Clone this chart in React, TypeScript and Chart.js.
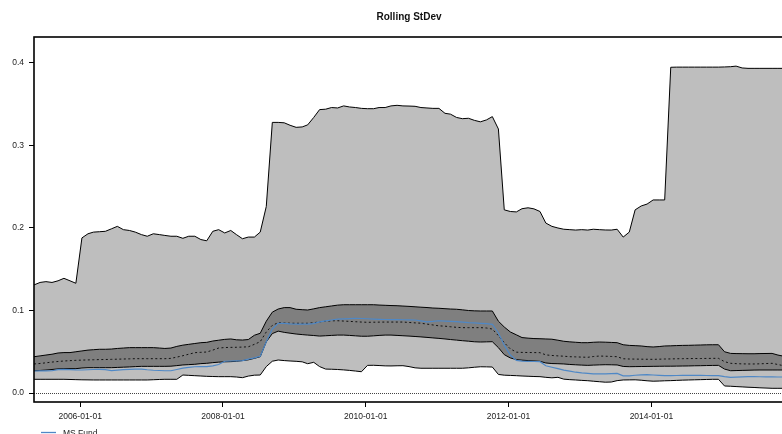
import { useEffect, useRef } from "react";
import { Chart, registerables } from "chart.js";

Chart.register(...registerables);

// Monthly observation dates, May 2005 through November 2015
const firstYear = 2005;
const firstMonth = 5;
const monthCount = 127;
const dates: string[] = [];
for (let i = 0; i < monthCount; i++) {
  const m = firstMonth - 1 + i;
  const y = firstYear + Math.floor(m / 12);
  const mm = (m % 12) + 1;
  dates.push(`${y}-${String(mm).padStart(2, "0")}-10`);
}

const xTickLabels = ["2006-01-01", "2008-01-01", "2010-01-01", "2012-01-01", "2014-01-01"];
const yTickValues = [0, 0.1, 0.2, 0.3, 0.4];

// Peer-group maximum of the rolling standard deviation
const peerMax = [
  0.131, 0.134, 0.135, 0.134, 0.136, 0.139, 0.136, 0.133, 0.188, 0.193,
  0.195, 0.1955, 0.196, 0.199, 0.202, 0.198, 0.197, 0.195, 0.192, 0.19,
  0.193, 0.192, 0.191, 0.19, 0.19, 0.1875, 0.19, 0.19, 0.186, 0.1845,
  0.196, 0.198, 0.194, 0.197, 0.192, 0.187, 0.189, 0.189, 0.195, 0.226,
  0.328, 0.328, 0.3275, 0.3245, 0.322, 0.3225, 0.325, 0.334, 0.3435, 0.344,
  0.346, 0.3455, 0.348, 0.3467, 0.346, 0.345, 0.3446, 0.3446, 0.346, 0.346,
  0.348, 0.3487, 0.348, 0.3478, 0.3475, 0.346, 0.3455, 0.345, 0.345, 0.339,
  0.338, 0.334, 0.3325, 0.333, 0.3305, 0.3287, 0.331, 0.335, 0.32, 0.222,
  0.22, 0.2195, 0.2234, 0.2245, 0.2232, 0.22, 0.206, 0.202, 0.2, 0.1985,
  0.198, 0.1975, 0.198, 0.1975, 0.1985, 0.198, 0.1976, 0.1975, 0.1985, 0.189,
  0.195, 0.222, 0.2267, 0.229, 0.234, 0.234, 0.234, 0.3948, 0.395, 0.395,
  0.395, 0.395, 0.395, 0.395, 0.395, 0.395, 0.3952, 0.3955, 0.3962, 0.394,
  0.3935, 0.3935, 0.3935, 0.3935, 0.3935, 0.3935, 0.3935,
];

// Peer-group upper quartile
const peerQ75 = [
  0.044, 0.045, 0.046, 0.047, 0.0485, 0.049, 0.049, 0.05, 0.051, 0.052,
  0.0525, 0.053, 0.053, 0.0533, 0.054, 0.0545, 0.055, 0.055, 0.055, 0.055,
  0.055, 0.0545, 0.054, 0.0545, 0.0565, 0.058, 0.059, 0.06, 0.061, 0.0614,
  0.063, 0.064, 0.065, 0.0655, 0.0645, 0.0642, 0.0648, 0.07, 0.0724, 0.087,
  0.098, 0.1018, 0.1035, 0.1035, 0.1015, 0.101, 0.1006, 0.102, 0.1035, 0.1045,
  0.1055, 0.1065, 0.107, 0.107, 0.107, 0.107, 0.107, 0.107, 0.1066, 0.1063,
  0.106, 0.1058, 0.1054, 0.105, 0.1045, 0.104, 0.1036, 0.103, 0.1027, 0.1022,
  0.1018, 0.1015, 0.1008, 0.1, 0.0996, 0.0994, 0.0994, 0.0994, 0.087, 0.08,
  0.074, 0.0705, 0.0672, 0.0665, 0.066, 0.0658, 0.0655, 0.0652, 0.064, 0.0627,
  0.062, 0.0615, 0.061, 0.061, 0.0615, 0.0618, 0.0616, 0.0613, 0.061, 0.0585,
  0.0577, 0.0574, 0.057, 0.0562, 0.0558, 0.0563, 0.057, 0.0572, 0.0575, 0.0577,
  0.0578, 0.058, 0.0582, 0.0584, 0.0585, 0.0585, 0.05, 0.048, 0.0478, 0.0477,
  0.0476, 0.0476, 0.0478, 0.0479, 0.048, 0.046, 0.0445,
];

// Peer-group median
const peerMedian = [
  0.0352, 0.0358, 0.0366, 0.0375, 0.0382, 0.0388, 0.0392, 0.0396, 0.0399, 0.0401,
  0.0403, 0.0405, 0.0406, 0.0408, 0.041, 0.0412, 0.0414, 0.0416, 0.0416, 0.0416,
  0.0416, 0.0416, 0.0416, 0.042, 0.0435, 0.0452, 0.047, 0.0489, 0.0493, 0.0497,
  0.052, 0.0545, 0.0551, 0.0553, 0.0554, 0.0557, 0.056, 0.059, 0.0622, 0.074,
  0.082, 0.0852, 0.0849, 0.0846, 0.0845, 0.0845, 0.0845, 0.0852, 0.0862, 0.087,
  0.0875, 0.0876, 0.0872, 0.0868, 0.0864, 0.086, 0.0857, 0.0858, 0.0859, 0.086,
  0.086, 0.086, 0.086, 0.0855, 0.085, 0.0846, 0.0835, 0.0825, 0.0814, 0.081,
  0.0803, 0.0796, 0.0792, 0.0792, 0.0792, 0.0792, 0.0788, 0.0775, 0.0695, 0.061,
  0.0535, 0.0495, 0.0492, 0.0491, 0.049, 0.0489, 0.0462, 0.0455, 0.045, 0.0446,
  0.044, 0.0438, 0.0435, 0.0433, 0.0442, 0.0448, 0.0446, 0.0443, 0.044, 0.0415,
  0.0412, 0.0411, 0.041, 0.0409, 0.0408, 0.041, 0.0412, 0.0413, 0.0415, 0.0416,
  0.0417, 0.0418, 0.0418, 0.0419, 0.042, 0.042, 0.038, 0.036, 0.0356, 0.0353,
  0.0352, 0.0352, 0.0354, 0.0357, 0.036, 0.0345, 0.033,
];

// Peer-group lower quartile
const peerQ25 = [
  0.027, 0.0273, 0.0278, 0.0285, 0.0292, 0.0295, 0.0295, 0.0295, 0.0303, 0.0307,
  0.0307, 0.0307, 0.0307, 0.0307, 0.031, 0.0313, 0.0316, 0.032, 0.0323, 0.0323,
  0.0323, 0.0323, 0.0323, 0.0325, 0.0332, 0.034, 0.0344, 0.0348, 0.0356, 0.036,
  0.0368, 0.0374, 0.0378, 0.038, 0.0384, 0.0393, 0.0402, 0.042, 0.044, 0.062,
  0.072, 0.075, 0.0735, 0.0725, 0.0715, 0.0708, 0.0702, 0.0697, 0.069, 0.0694,
  0.0698, 0.0702, 0.0702, 0.0698, 0.0693, 0.0688, 0.0688, 0.0693, 0.0698, 0.0702,
  0.0702, 0.0698, 0.0694, 0.069, 0.0685, 0.068, 0.0674, 0.0668, 0.0662, 0.0655,
  0.0648, 0.0641, 0.0634, 0.0628, 0.0621, 0.0618, 0.062, 0.0622, 0.055, 0.0465,
  0.0425, 0.0405, 0.0398, 0.0393, 0.0388, 0.0384, 0.0364, 0.0357, 0.0355, 0.0352,
  0.0346, 0.0342, 0.0338, 0.0335, 0.0338, 0.0341, 0.0343, 0.0342, 0.034, 0.0322,
  0.0319, 0.032, 0.0321, 0.0322, 0.0323, 0.0324, 0.0325, 0.0325, 0.0326, 0.0327,
  0.0328, 0.033, 0.0331, 0.0333, 0.0334, 0.0335, 0.029, 0.027, 0.0272, 0.0274,
  0.0276, 0.0278, 0.0279, 0.0279, 0.0279, 0.0279, 0.0279,
];

// Peer-group minimum
const peerMin = [
  0.0166, 0.0166, 0.0166, 0.0166, 0.0166, 0.0166, 0.0164, 0.0162, 0.016, 0.0159,
  0.0158, 0.0158, 0.0158, 0.0158, 0.0158, 0.0158, 0.0158, 0.0158, 0.0158, 0.0158,
  0.0161, 0.0164, 0.0166, 0.0166, 0.0166, 0.0218, 0.0214, 0.021, 0.0206, 0.0202,
  0.02, 0.0198, 0.0198, 0.0198, 0.0194, 0.0186, 0.0205, 0.0216, 0.0218, 0.032,
  0.0385, 0.04, 0.0393, 0.0388, 0.0384, 0.0378, 0.0355, 0.0372, 0.032, 0.029,
  0.0288, 0.0285, 0.028, 0.0274, 0.0266, 0.0258, 0.0335, 0.0336, 0.0333, 0.0329,
  0.0328, 0.033, 0.0331, 0.032, 0.0305, 0.03, 0.03, 0.03, 0.03, 0.03,
  0.03, 0.03, 0.03, 0.0305, 0.0312, 0.0318, 0.0317, 0.0315, 0.0225, 0.0216,
  0.0213, 0.021, 0.0206, 0.0203, 0.02, 0.0198, 0.019, 0.0184, 0.019, 0.0168,
  0.0162, 0.0158, 0.0153, 0.0149, 0.0143, 0.0137, 0.0131, 0.0133, 0.015, 0.0158,
  0.0159, 0.016, 0.0155, 0.0148, 0.0143, 0.0145, 0.0148, 0.015, 0.0153, 0.0156,
  0.0158, 0.016, 0.0162, 0.0164, 0.0166, 0.0166, 0.0085, 0.0082, 0.0078, 0.0074,
  0.007, 0.0067, 0.0063, 0.006, 0.0057, 0.0057, 0.0057,
];

// The fund's own rolling standard deviation
const msFund = [
  0.0267, 0.0268, 0.0269, 0.027, 0.0284, 0.0287, 0.0284, 0.028, 0.0279, 0.0282,
  0.0285, 0.0287, 0.0283, 0.0271, 0.0278, 0.0284, 0.0287, 0.0289, 0.029, 0.0282,
  0.0276, 0.0273, 0.027, 0.027, 0.0285, 0.0302, 0.031, 0.0318, 0.0319, 0.0319,
  0.0328, 0.0345, 0.0385, 0.0388, 0.039, 0.0392, 0.041, 0.0425, 0.0445, 0.062,
  0.0775, 0.0845, 0.0843, 0.0837, 0.0836, 0.0836, 0.0836, 0.0842, 0.0862, 0.0875,
  0.0885, 0.0895, 0.0898, 0.0902, 0.0905, 0.0903, 0.09, 0.0896, 0.0893, 0.0891,
  0.089, 0.0889, 0.0888, 0.0886, 0.0885, 0.0875, 0.0863, 0.0868, 0.0876, 0.0872,
  0.0868, 0.0864, 0.0858, 0.0853, 0.085, 0.0845, 0.084, 0.0833, 0.0728, 0.058,
  0.046, 0.0395, 0.0387, 0.0384, 0.0382, 0.038, 0.033, 0.0312, 0.0295, 0.0278,
  0.0265, 0.0252, 0.0244, 0.0238, 0.0232, 0.0231, 0.0233, 0.0235, 0.0238, 0.0208,
  0.0208, 0.0215, 0.022, 0.0222, 0.0218, 0.0214, 0.0211, 0.021, 0.0212, 0.0214,
  0.0215, 0.0214, 0.0213, 0.0212, 0.0211, 0.021, 0.0198, 0.019, 0.0193, 0.0196,
  0.0198, 0.0198, 0.0197, 0.0196, 0.0195, 0.0194, 0.0194,
];

const FONT = "'Liberation Sans', Arial, Helvetica, sans-serif";
const LIGHT_BAND = "#BEBEBE";
const DARK_BAND = "#7F7F7F";
const FUND_BLUE = "#4F88C6";

function yearFraction(s: string): number {
  const [y, m, d] = s.split("-").map(Number);
  const start = Date.UTC(y, 0, 1);
  const end = Date.UTC(y + 1, 0, 1);
  return y + (Date.UTC(y, m - 1, d) - start) / (end - start);
}

const xValues = dates.map(yearFraction);
const xTickValues = xTickLabels.map(yearFraction);

function toPoints(values: number[]) {
  return values.map((v, i) => ({ x: xValues[i], y: v }));
}

const decorations = {
  id: "decorations",
  afterDatasetsDraw(chart: any) {
    const { ctx, chartArea, scales } = chart;
    const y0 = scales.y.getPixelForValue(0);
    ctx.save();
    ctx.strokeStyle = "#444";
    ctx.lineWidth = 1;
    ctx.setLineDash([1, 1]);
    ctx.beginPath();
    ctx.moveTo(chartArea.left, Math.round(y0) + 0.5);
    ctx.lineTo(chartArea.right, Math.round(y0) + 0.5);
    ctx.stroke();
    ctx.restore();
  },
  afterDraw(chart: any) {
    const { ctx, chartArea } = chart;
    ctx.save();
    // frame around the plotting region
    ctx.strokeStyle = "#000";
    ctx.lineWidth = 1.6;
    ctx.strokeRect(
      chartArea.left,
      chartArea.top,
      chartArea.right - chartArea.left,
      chartArea.bottom - chartArea.top
    );
    // title
    ctx.fillStyle = "#111";
    ctx.font = `bold 10px ${FONT}`;
    ctx.textAlign = "center";
    ctx.textBaseline = "alphabetic";
    ctx.fillText("Rolling StDev", (chartArea.left + chartArea.right) / 2, 20);
    // legend
    ctx.strokeStyle = FUND_BLUE;
    ctx.lineWidth = 1.3;
    ctx.beginPath();
    ctx.moveTo(41, 432.5);
    ctx.lineTo(56, 432.5);
    ctx.stroke();
    ctx.fillStyle = "#222";
    ctx.font = `8.5px ${FONT}`;
    ctx.textAlign = "left";
    ctx.fillText("MS Fund", 63, 435.5);
    ctx.restore();
  },
};

export default function App() {
  const canvasRef = useRef<HTMLCanvasElement | null>(null);

  useEffect(() => {
    document.body.style.margin = "0";
    document.body.style.overflow = "hidden";
    const canvas = canvasRef.current;
    if (!canvas) return;

    const tickFont = { family: FONT, size: 8.5 };

    const chart = new Chart(canvas, {
      type: "line",
      data: {
        datasets: [
          {
            label: "MS Fund",
            data: toPoints(msFund),
            borderColor: FUND_BLUE,
            borderWidth: 1.2,
            pointRadius: 0,
            fill: false,
          },
          {
            label: "Median",
            data: toPoints(peerMedian),
            borderColor: "#111",
            borderWidth: 1,
            borderDash: [2, 2.5],
            pointRadius: 0,
            fill: false,
          },
          {
            label: "Upper quartile",
            data: toPoints(peerQ75),
            borderColor: "#000",
            borderWidth: 1,
            pointRadius: 0,
            backgroundColor: DARK_BAND,
            fill: "+1",
          },
          {
            label: "Lower quartile",
            data: toPoints(peerQ25),
            borderColor: "#000",
            borderWidth: 1,
            pointRadius: 0,
            fill: false,
          },
          {
            label: "Maximum",
            data: toPoints(peerMax),
            borderColor: "#000",
            borderWidth: 1,
            pointRadius: 0,
            backgroundColor: LIGHT_BAND,
            fill: "+1",
          },
          {
            label: "Minimum",
            data: toPoints(peerMin),
            borderColor: "#000",
            borderWidth: 1,
            pointRadius: 0,
            fill: false,
          },
        ],
      },
      options: {
        animation: false,
        responsive: false,
        maintainAspectRatio: false,
        layout: { padding: { left: 0, right: 16, top: 37, bottom: 0 } },
        elements: { line: { tension: 0 } },
        plugins: {
          legend: { display: false },
          title: { display: false },
          tooltip: { enabled: false },
          filler: { drawTime: "beforeDatasetsDraw" },
        } as any,
        scales: {
          x: {
            type: "linear",
            min: xValues[0],
            max: xValues[xValues.length - 1],
            afterFit: (s: any) => {
              s.height = 32;
            },
            afterBuildTicks: (s: any) => {
              s.ticks = xTickValues.map((v) => ({ value: v }));
            },
            ticks: {
              autoSkip: false,
              maxRotation: 0,
              padding: 5,
              color: "#222",
              font: tickFont,
              callback: (_v: any, i: number) => xTickLabels[i],
            },
            grid: {
              drawOnChartArea: false,
              drawTicks: true,
              tickLength: 5,
              tickColor: "#000",
              tickWidth: 1,
            },
            border: { display: false },
          },
          y: {
            type: "linear",
            min: -0.0109,
            max: 0.4315,
            afterFit: (s: any) => {
              s.width = 34;
            },
            afterBuildTicks: (s: any) => {
              s.ticks = yTickValues.map((v) => ({ value: v }));
            },
            ticks: {
              padding: 5,
              color: "#222",
              font: tickFont,
              callback: (v: any) => Number(v).toFixed(1),
            },
            grid: {
              drawOnChartArea: false,
              drawTicks: true,
              tickLength: 5,
              tickColor: "#000",
              tickWidth: 1,
            },
            border: { display: false },
          },
        },
      } as any,
      plugins: [decorations],
    });

    return () => {
      chart.destroy();
    };
  }, []);

  return (
    <div style={{ width: 782, height: 434, overflow: "hidden", background: "#fff" }}>
      <canvas ref={canvasRef} width={800} height={434} style={{ display: "block" }} />
    </div>
  );
}
